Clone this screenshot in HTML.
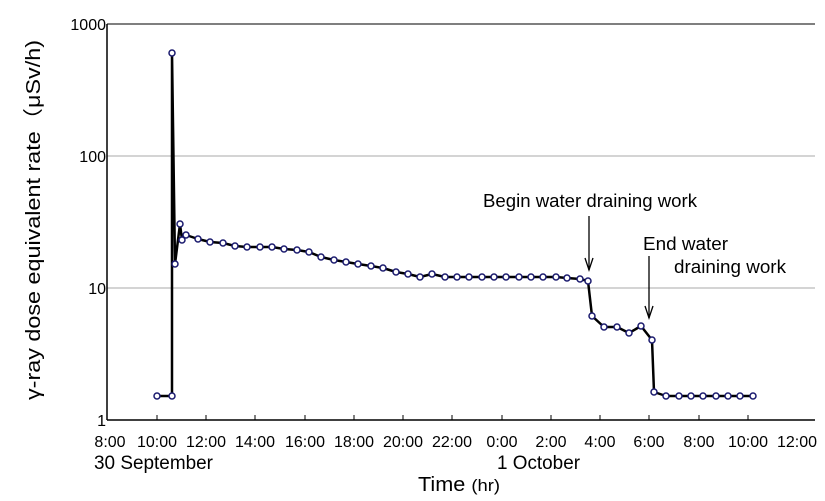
<!DOCTYPE html>
<html><head><meta charset="utf-8"><style>
body{margin:0;background:#fff}
svg{display:block;font-family:"Liberation Sans",Arial,sans-serif}
</style></head><body>
<svg width="825" height="501" viewBox="0 0 825 501">
<rect width="825" height="501" fill="#fff"/>
<line x1="107" y1="24" x2="815" y2="24" stroke="#555" stroke-width="1.5"/>
<line x1="107" y1="156" x2="815" y2="156" stroke="#aaa" stroke-width="1"/>
<line x1="107" y1="288" x2="815" y2="288" stroke="#aaa" stroke-width="1"/>
<line x1="107" y1="24" x2="107" y2="420" stroke="#000" stroke-width="1.5"/>
<line x1="107" y1="420" x2="815" y2="420" stroke="#000" stroke-width="1.5"/>
<g stroke="#000" stroke-width="1">
<line x1="157" y1="415" x2="157" y2="420"/><line x1="206" y1="415" x2="206" y2="420"/><line x1="255" y1="415" x2="255" y2="420"/><line x1="305" y1="415" x2="305" y2="420"/><line x1="354" y1="415" x2="354" y2="420"/><line x1="403" y1="415" x2="403" y2="420"/><line x1="452" y1="415" x2="452" y2="420"/><line x1="502" y1="415" x2="502" y2="420"/><line x1="551" y1="415" x2="551" y2="420"/><line x1="600" y1="415" x2="600" y2="420"/><line x1="649" y1="415" x2="649" y2="420"/><line x1="699" y1="415" x2="699" y2="420"/><line x1="748" y1="415" x2="748" y2="420"/>
</g>
<g font-size="16" text-anchor="end" fill="#000">
<text x="106" y="30">1000</text><text x="106" y="162">100</text><text x="106" y="294">10</text><text x="106" y="426">1</text>
</g>
<g font-size="16" text-anchor="middle" fill="#000">
<text x="110" y="447">8:00</text><text x="157" y="447">10:00</text><text x="206" y="447">12:00</text><text x="255" y="447">14:00</text><text x="305" y="447">16:00</text><text x="354" y="447">18:00</text><text x="403" y="447">20:00</text><text x="452" y="447">22:00</text><text x="502" y="447">0:00</text><text x="551" y="447">2:00</text><text x="600" y="447">4:00</text><text x="649" y="447">6:00</text><text x="699" y="447">8:00</text><text x="748" y="447">10:00</text><text x="797" y="447">12:00</text>
</g>
<text x="94" y="469" font-size="19" textLength="119" lengthAdjust="spacingAndGlyphs">30 September</text>
<text x="497" y="469" font-size="19" textLength="83" lengthAdjust="spacingAndGlyphs">1 October</text>
<text x="418" y="491" font-size="20" textLength="82" lengthAdjust="spacingAndGlyphs">Time <tspan font-size="17">(hr)</tspan></text>
<text transform="translate(40,220) rotate(-90)" font-size="20" text-anchor="middle" textLength="360" lengthAdjust="spacingAndGlyphs">γ-ray dose equivalent rate（μSv/h)</text>
<polyline fill="none" stroke="#000" stroke-width="2.5" stroke-linejoin="round" points="157,396 172,396 172,53 175,264 180,224 182,240 186,235 198,239 210,242 223,243 235,246 247,247 260,247 272,247 284,249 297,250 309,252 321,257 334,260 346,262 358,264 371,266 383,268 396,272 408,274 420,277 432,274 445,277 457,277 469,277 482,277 494,277 506,277 519,277 531,277 543,277 556,277 567,278 580,279 588,281 592,316 604,327 617,327 629,333 641,326 652,340 654,392 666,396 679,396 691,396 703,396 716,396 728,396 740,396 753,396"/>
<g fill="#fff" stroke="#1a1a6e" stroke-width="1.5">
<circle cx="157" cy="396" r="3"/><circle cx="172" cy="396" r="3"/><circle cx="172" cy="53" r="3"/><circle cx="175" cy="264" r="3"/><circle cx="180" cy="224" r="3"/><circle cx="182" cy="240" r="3"/><circle cx="186" cy="235" r="3"/><circle cx="198" cy="239" r="3"/><circle cx="210" cy="242" r="3"/><circle cx="223" cy="243" r="3"/><circle cx="235" cy="246" r="3"/><circle cx="247" cy="247" r="3"/><circle cx="260" cy="247" r="3"/><circle cx="272" cy="247" r="3"/><circle cx="284" cy="249" r="3"/><circle cx="297" cy="250" r="3"/><circle cx="309" cy="252" r="3"/><circle cx="321" cy="257" r="3"/><circle cx="334" cy="260" r="3"/><circle cx="346" cy="262" r="3"/><circle cx="358" cy="264" r="3"/><circle cx="371" cy="266" r="3"/><circle cx="383" cy="268" r="3"/><circle cx="396" cy="272" r="3"/><circle cx="408" cy="274" r="3"/><circle cx="420" cy="277" r="3"/><circle cx="432" cy="274" r="3"/><circle cx="445" cy="277" r="3"/><circle cx="457" cy="277" r="3"/><circle cx="469" cy="277" r="3"/><circle cx="482" cy="277" r="3"/><circle cx="494" cy="277" r="3"/><circle cx="506" cy="277" r="3"/><circle cx="519" cy="277" r="3"/><circle cx="531" cy="277" r="3"/><circle cx="543" cy="277" r="3"/><circle cx="556" cy="277" r="3"/><circle cx="567" cy="278" r="3"/><circle cx="580" cy="279" r="3"/><circle cx="588" cy="281" r="3"/><circle cx="592" cy="316" r="3"/><circle cx="604" cy="327" r="3"/><circle cx="617" cy="327" r="3"/><circle cx="629" cy="333" r="3"/><circle cx="641" cy="326" r="3"/><circle cx="652" cy="340" r="3"/><circle cx="654" cy="392" r="3"/><circle cx="666" cy="396" r="3"/><circle cx="679" cy="396" r="3"/><circle cx="691" cy="396" r="3"/><circle cx="703" cy="396" r="3"/><circle cx="716" cy="396" r="3"/><circle cx="728" cy="396" r="3"/><circle cx="740" cy="396" r="3"/><circle cx="753" cy="396" r="3"/>
</g>
<g stroke="#000" stroke-width="1.3" fill="none">
<line x1="589" y1="216" x2="589" y2="270"/><polyline points="585,258 589,270 593,258"/>
<line x1="649" y1="256" x2="649" y2="318"/><polyline points="645,306 649,318 653,306"/>
</g>
<g font-size="18" fill="#000">
<text x="483" y="207" textLength="214" lengthAdjust="spacingAndGlyphs">Begin water draining work</text>
<text x="643" y="250" textLength="85" lengthAdjust="spacingAndGlyphs">End water</text>
<text x="674" y="273" textLength="112" lengthAdjust="spacingAndGlyphs">draining work</text>
</g>
</svg>
</body></html>
